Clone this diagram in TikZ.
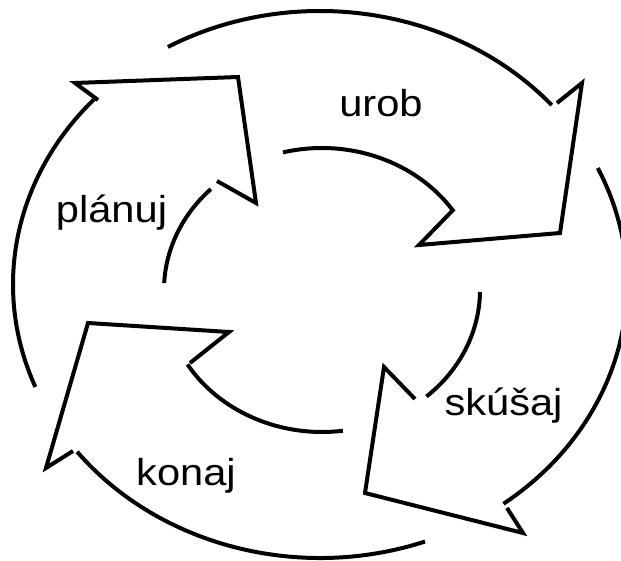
\documentclass[tikz,border=0pt]{standalone}
\usepackage{fontspec}
\setmainfont{Liberation Sans}
\begin{document}
\begin{tikzpicture}[x=1pt,y=-1pt,line width=4pt,
  outer/.style={x radius=307,y radius=273.5},
  inner/.style={x radius=158,y radius=142},
  lbl/.style={font=\fontsize{37.5}{42}\selectfont,anchor=base,inner sep=0pt,xscale=1.11,transform shape}]
\useasboundingbox (0,0) rectangle (621,561);
\coordinate (oc) at (320,284.5);
\coordinate (ic) at (322,290);
% plan
\draw (oc) ++(158:307 and 273.5) arc[outer,start angle=158,end angle=223];
\draw (98,100) -- (75,83) -- (238,77) -- (256,203) -- (217,181);
\draw (ic) ++(225.3:158 and 142) arc[inner,start angle=225.3,end angle=182.8];
\node[lbl] (plan) at (111.5,223) {plánuj};
% do
\draw (oc) ++(240.3:307 and 273.5) arc[outer,start angle=240.3,end angle=319];
\draw (557,103) -- (582,83) -- (560,233) -- (419,245) -- (454,209);
\draw (ic) ++(325.7:158 and 142) arc[inner,start angle=325.7,end angle=255.7];
\node[lbl] (do) at (381,117) {urob};
% check
\draw (oc) ++(-25.2:307 and 273.5) arc[outer,start angle=-25.2,end angle=53.3];
\draw (507,508) -- (523,533) -- (365,493) -- (384,367) -- (415,399);
\draw (ic) ++(48.6:158 and 142) arc[inner,start angle=48.6,end angle=0.8];
\node[lbl] (check) at (503.5,415) {skúšaj};
% act
\draw (oc) ++(70:307 and 273.5) arc[outer,start angle=70,end angle=142.3];
\draw (73,451) -- (46,468) -- (88,323) -- (229,332) -- (190,363);
\draw (ic) ++(148.4:158 and 142) arc[inner,start angle=148.4,end angle=82.4];
\node[lbl] (act) at (186,485) {konaj};
\end{tikzpicture}
\end{document}
